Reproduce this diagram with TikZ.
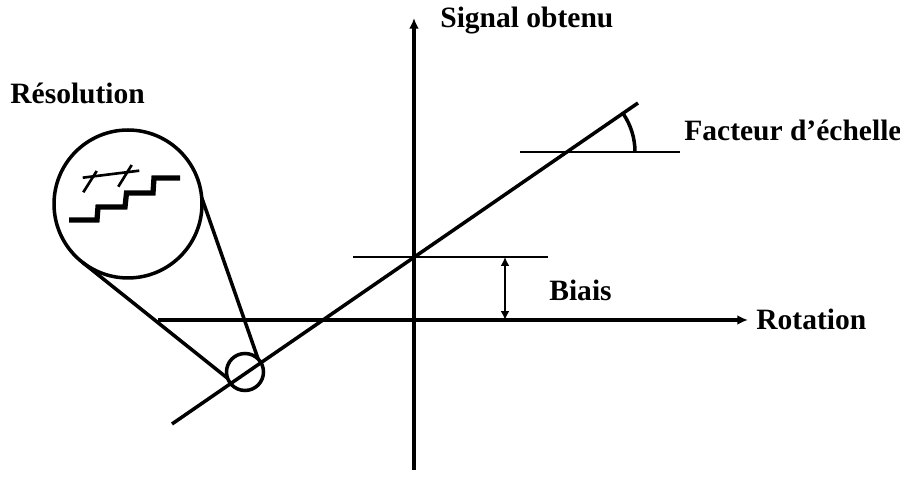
\documentclass[tikz,border=0pt]{standalone}
\usepackage{fontspec}
\setmainfont{Liberation Serif}
\usetikzlibrary{positioning, arrows.meta}

\begin{document}
\begin{tikzpicture}[
		x=0.02cm, y=0.02cm,
		trait/.style={
			line width=2pt,
			black
		},
		axe/.style={
			trait,
			-{Latex[length=6pt,width=5.5pt]}
		},
		cote/.style={
			line width=1.5pt,
			{Latex[length=5pt,width=5pt]}-{Latex[length=5pt,width=5pt]}
		},
		lentille/.style={
			circle,
			draw,
			line width=2pt,
			inner sep=0pt,
			outer sep=0pt
		},
		etiquette/.style={
			inner sep=0pt,
			anchor=west,
			font=\fontsize{16.8}{20}\selectfont\bfseries
		}
		]
		\useasboundingbox (0,0) rectangle (900,479);
		% Coordinates
		\coordinate (xmin) at (158,159);
		\coordinate (xmax) at (748,159);
		\coordinate (ymin) at (414,9);
		\coordinate (ymax) at (414,461);
		\coordinate (dbas) at (172,55);
		\coordinate (dhaut) at (638,376);
		\coordinate (bg) at (353,222);
		\coordinate (bd) at (548,222);
		\coordinate (fg) at (520,327);
		\coordinate (fd) at (680,327);
		\coordinate (fo) at (567,327);
		\coordinate (cb) at (505,222);
		\coordinate (ch) at (505,159);
		% Axes
		\draw[axe] (xmin) -- (xmax);
		\draw[axe] (ymin) -- (ymax);
		% Response line
		\draw[trait] (dbas) -- (dhaut);
		\draw[trait, line width=1.5pt] (bg) -- (bd);
		\draw[trait, line width=1.5pt] (fg) -- (fd);
		\draw[cote] (cb) -- (ch);
		\draw[trait] ([shift={(0:68)}]fo) arc[start angle=0, end angle=34.6, radius=68];
		% Magnifier
		\node[lentille, minimum size=2.96cm] (loupe) at (128,275) {};
		\node[lentille, minimum size=0.74cm] (zoom) at (245,107) {};
		\draw[trait] (loupe.-128) -- (zoom.-160);
		\draw[trait] (loupe.5) -- (zoom.45);
		% Steps
		\draw[line width=3pt] (69,259) -- (97,259) -- (98,272) -- (125,272)
		-- (126.5,286) -- (153,286) -- (154,301) -- (180,301);
		\draw[line width=1.5pt] (82.7,301.3) -- (139.3,308.3);
		\draw[line width=1.5pt] (96.7,308) -- (83.3,286.7);
		\draw[line width=1.5pt] (131.7,314) -- (118.3,292.3);
		% Labels
		\node[etiquette] (signal) at (440,458) {Signal obtenu};
		\node[etiquette] (resol) at (10,386) {Résolution};
		\node[etiquette] (rot) at (756,160) {Rotation};
		\node[etiquette] (biais) at (549,189) {Biais};
		\node[etiquette] (facteur) at (684,349) {Facteur d’échelle};
	\end{tikzpicture}
\end{document}
